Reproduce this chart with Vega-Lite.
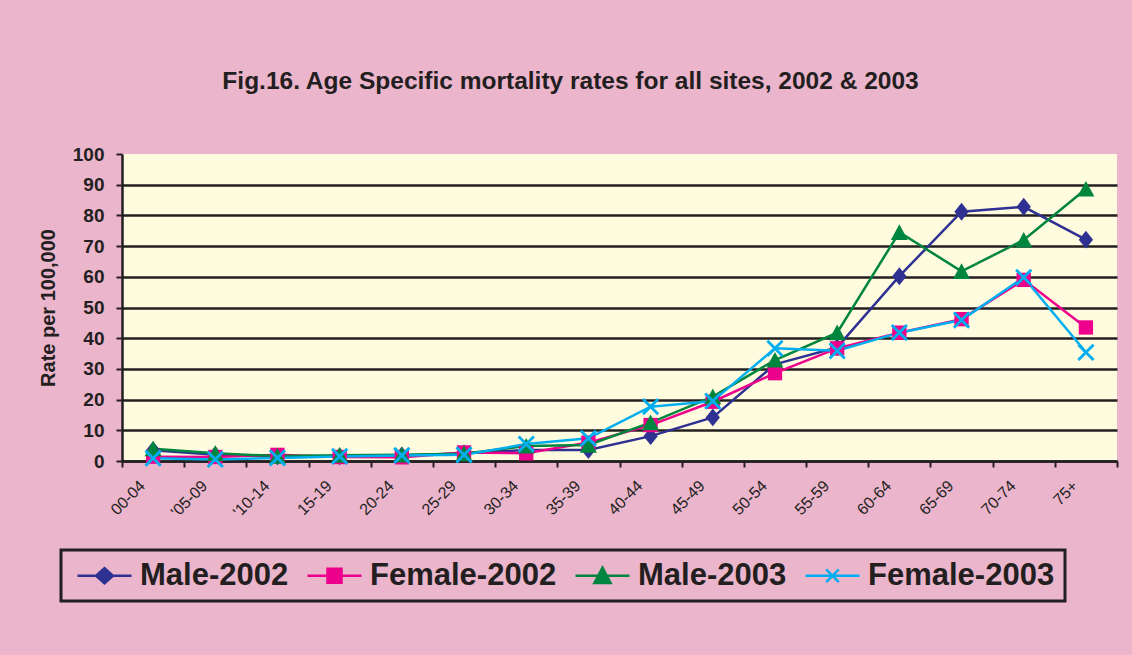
{
  "$schema": "https://vega.github.io/schema/vega-lite/v6.json",
  "width": 995,
  "height": 307,
  "autosize": {"type": "none"},
  "padding": {"left": 122, "top": 154, "right": 15, "bottom": 194},
  "background": "#EBB5CC",
  "title": {
    "text": "Fig.16. Age Specific mortality rates for all sites, 2002 & 2003",
    "font": "Liberation Sans",
    "fontSize": 24.5,
    "fontWeight": "bold",
    "color": "#231F20",
    "anchor": "middle",
    "baseline": "alphabetic",
    "offset": 32,
    "dx": -49
  },
  "config": {
    "view": {"fill": "#FFFBDE", "stroke": null},
    "axis": {"labelFont": "Liberation Sans", "titleFont": "Liberation Sans", "labelColor": "#231F20", "titleColor": "#231F20", "domainColor": "#231F20", "tickColor": "#231F20"},
    "legend": {
      "orient": "none",
      "legendX": -61,
      "legendY": 396,
      "direction": "horizontal",
      "columns": 4,
      "strokeColor": "#231F20",
      "padding": 10,
      "symbolSize": 324,
      "symbolOpacity": 1,
      "labelFont": "Liberation Sans",
      "labelFontSize": 31,
      "labelFontWeight": "bold",
      "labelColor": "#231F20",
      "labelOffset": 38,
      "labelLimit": 400,
      "columnPadding": 12
    }
  },
  "data": {
    "values": [
      {"age": "00-04", "series": "Male-2002", "rate": 3.5},
      {"age": "'05-09", "series": "Male-2002", "rate": 2.0},
      {"age": "'10-14", "series": "Male-2002", "rate": 1.5},
      {"age": "15-19", "series": "Male-2002", "rate": 1.5},
      {"age": "20-24", "series": "Male-2002", "rate": 1.8},
      {"age": "25-29", "series": "Male-2002", "rate": 2.5},
      {"age": "30-34", "series": "Male-2002", "rate": 3.6},
      {"age": "35-39", "series": "Male-2002", "rate": 3.6},
      {"age": "40-44", "series": "Male-2002", "rate": 8.1},
      {"age": "45-49", "series": "Male-2002", "rate": 14.2},
      {"age": "50-54", "series": "Male-2002", "rate": 31.5},
      {"age": "55-59", "series": "Male-2002", "rate": 37.0},
      {"age": "60-64", "series": "Male-2002", "rate": 60.2},
      {"age": "65-69", "series": "Male-2002", "rate": 81.2},
      {"age": "70-74", "series": "Male-2002", "rate": 82.8},
      {"age": "75+", "series": "Male-2002", "rate": 72.1},
      {"age": "00-04", "series": "Female-2002", "rate": 1.4},
      {"age": "'05-09", "series": "Female-2002", "rate": 1.3},
      {"age": "'10-14", "series": "Female-2002", "rate": 2.0},
      {"age": "15-19", "series": "Female-2002", "rate": 1.3},
      {"age": "20-24", "series": "Female-2002", "rate": 1.2},
      {"age": "25-29", "series": "Female-2002", "rate": 2.8},
      {"age": "30-34", "series": "Female-2002", "rate": 2.5},
      {"age": "35-39", "series": "Female-2002", "rate": 6.0},
      {"age": "40-44", "series": "Female-2002", "rate": 11.7},
      {"age": "45-49", "series": "Female-2002", "rate": 19.3},
      {"age": "50-54", "series": "Female-2002", "rate": 28.6},
      {"age": "55-59", "series": "Female-2002", "rate": 36.7},
      {"age": "60-64", "series": "Female-2002", "rate": 41.8},
      {"age": "65-69", "series": "Female-2002", "rate": 46.2},
      {"age": "70-74", "series": "Female-2002", "rate": 59.0},
      {"age": "75+", "series": "Female-2002", "rate": 43.5},
      {"age": "00-04", "series": "Male-2003", "rate": 4.0},
      {"age": "'05-09", "series": "Male-2003", "rate": 2.5},
      {"age": "'10-14", "series": "Male-2003", "rate": 1.6},
      {"age": "15-19", "series": "Male-2003", "rate": 1.9},
      {"age": "20-24", "series": "Male-2003", "rate": 2.0},
      {"age": "25-29", "series": "Male-2003", "rate": 2.4},
      {"age": "30-34", "series": "Male-2003", "rate": 4.9},
      {"age": "35-39", "series": "Male-2003", "rate": 5.2},
      {"age": "40-44", "series": "Male-2003", "rate": 12.5},
      {"age": "45-49", "series": "Male-2003", "rate": 21.0},
      {"age": "50-54", "series": "Male-2003", "rate": 32.9},
      {"age": "55-59", "series": "Male-2003", "rate": 41.8},
      {"age": "60-64", "series": "Male-2003", "rate": 74.5},
      {"age": "65-69", "series": "Male-2003", "rate": 61.8},
      {"age": "70-74", "series": "Male-2003", "rate": 72.0},
      {"age": "75+", "series": "Male-2003", "rate": 88.6},
      {"age": "00-04", "series": "Female-2003", "rate": 0.9},
      {"age": "'05-09", "series": "Female-2003", "rate": 0.5},
      {"age": "'10-14", "series": "Female-2003", "rate": 1.0},
      {"age": "15-19", "series": "Female-2003", "rate": 1.5},
      {"age": "20-24", "series": "Female-2003", "rate": 1.8},
      {"age": "25-29", "series": "Female-2003", "rate": 2.0},
      {"age": "30-34", "series": "Female-2003", "rate": 5.5},
      {"age": "35-39", "series": "Female-2003", "rate": 7.4},
      {"age": "40-44", "series": "Female-2003", "rate": 17.7},
      {"age": "45-49", "series": "Female-2003", "rate": 19.5},
      {"age": "50-54", "series": "Female-2003", "rate": 36.7},
      {"age": "55-59", "series": "Female-2003", "rate": 35.9},
      {"age": "60-64", "series": "Female-2003", "rate": 41.8},
      {"age": "65-69", "series": "Female-2003", "rate": 45.9},
      {"age": "70-74", "series": "Female-2003", "rate": 59.8},
      {"age": "75+", "series": "Female-2003", "rate": 35.4}
    ]
  },
  "encoding": {
    "x": {
      "field": "age",
      "type": "ordinal",
      "sort": null,
      "scale": {"type": "band", "paddingInner": 0, "paddingOuter": 0},
      "axis": {
        "title": null,
        "labelAngle": -45,
        "labelAlign": "right",
        "labelBaseline": "middle",
        "labelFontSize": 16,
        "labelOffset": -11,
        "labelPadding": 16,
        "tickBand": "extent",
        "tickSize": 6,
        "tickWidth": 2,
        "domainWidth": 2.5,
        "grid": false
      }
    },
    "y": {
      "field": "rate",
      "type": "quantitative",
      "scale": {"domain": [0, 100], "nice": false},
      "axis": {
        "title": "Rate per 100,000",
        "titleFontSize": 20,
        "titleFontWeight": "bold",
        "titlePadding": 14,
        "values": [0, 10, 20, 30, 40, 50, 60, 70, 80, 90, 100],
        "labelFontSize": 19,
        "labelFontWeight": "bold",
        "labelPadding": 12,
        "tickSize": 6,
        "tickWidth": 2,
        "domainWidth": 2.5,
        "grid": true,
        "gridColor": {"condition": {"test": "datum.value >= 100", "value": "transparent"}, "value": "#231F20"},
        "gridWidth": 2.5,
        "gridOpacity": 1
      }
    },
    "color": {
      "field": "series",
      "type": "nominal",
      "scale": {"domain": ["Male-2002", "Female-2002", "Male-2003", "Female-2003"], "range": ["#2E3192", "#EC008C", "#00853F", "#00AEEF"]},
      "legend": {
        "title": null,
        "encode": {
          "legend": {"update": {"strokeWidth": {"value": 3}}},
          "symbols": {
            "update": {
              "shape": {"signal": "datum.value === 'Male-2002' ? 'M-1,0H5M2,-0.83L2.94,0L2,0.83L1.06,0Z' : datum.value === 'Female-2002' ? 'M-1,0H5M1.22,-0.78H2.78V0.78H1.22Z' : datum.value === 'Male-2003' ? 'M-1,0H5M2,-0.9L2.9,0.8H1.1Z' : 'M-1,0H5M1.3,-0.7L2.7,0.7M1.3,0.7L2.7,-0.7'"},
              "stroke": {"signal": "scale('color', datum.value)"},
              "fill": {"signal": "scale('color', datum.value)"},
              "strokeWidth": {"value": 2.5},
              "opacity": {"value": 1}
            }
          }
        }
      }
    }
  },
  "layer": [
    {
      "mark": {"type": "line", "strokeWidth": 2.5}
    },
    {
      "mark": {"type": "point", "filled": true, "opacity": 1, "size": 320},
      "encoding": {
        "shape": {
          "field": "series",
          "type": "nominal",
          "scale": {"domain": ["Female-2003", "Male-2003", "Female-2002", "Male-2002"], "range": ["M-0.737,-0.963L0.963,0.737L0.737,0.963L-0.963,-0.737ZM-0.963,0.737L0.737,-0.963L0.963,-0.737L-0.737,0.963Z", "M0,-0.9L0.95,0.85H-0.95Z", "M-0.8,-0.8H0.8V0.8H-0.8Z", "M0,-1L0.8,0L0,1L-0.8,0Z"]},
          "legend": null
        }
      }
    }
  ]
}
